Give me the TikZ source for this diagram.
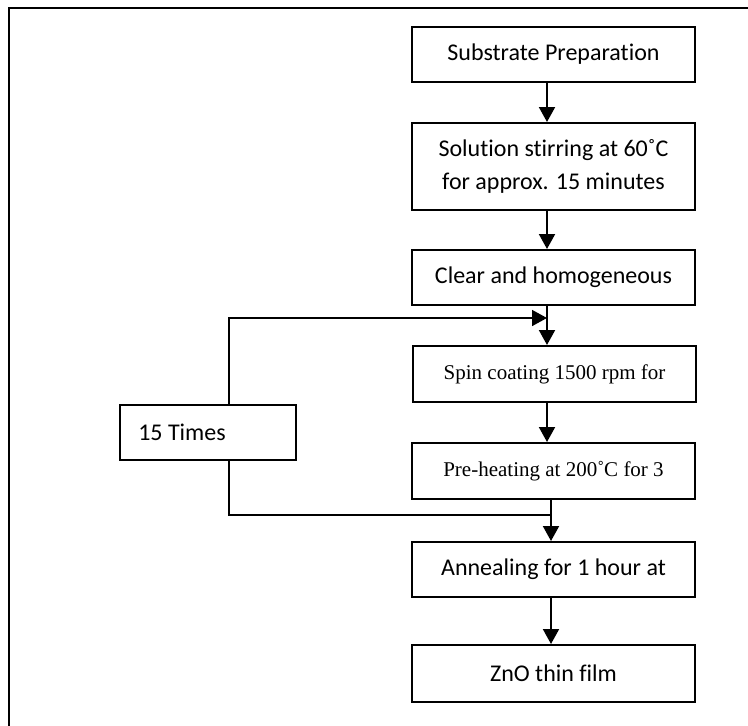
\documentclass[tikz,border=0pt]{standalone}
\usepackage{fontspec}
\setmainfont[Ligatures=NoCommon]{Carlito}
\newfontfamily\timesfont{Liberation Serif}
\usetikzlibrary{arrows.meta, positioning}

\begin{document}
\begin{tikzpicture}[x=1pt, y=1pt,
    stepbox/.style={draw, line width=2pt, minimum width=283pt, minimum height=55pt,
      inner sep=0pt, align=center, font=\fontsize{24}{33}\selectfont},
    serifbox/.style={stepbox, font=\timesfont\fontsize{21}{24}\selectfont},
    flow/.style={line width=2pt, -{Triangle[width=16pt, length=15pt]}},
    loopline/.style={line width=1.6pt}]
      \useasboundingbox (0,0) rectangle (748,-726);
      % frame
      \draw[line width=2.2pt] (9,-726) -- (9,-8) -- (748,-8);

      \node[stepbox] (prep) at (553.5,-54.5) {Substrate Preparation};
      \node[stepbox, minimum height=87pt] (stir) at (553.5,-166.5)
        {Solution stirring at 60˚C\\for approx. 15 minutes};
      \node[stepbox] (clear) at (553.5,-277.5) {Clear and homogeneous};
      \node[serifbox, minimum height=56pt] (spin) at (554.5,-374) {Spin coating 1500 rpm for};
      \node[serifbox, minimum height=56pt] (heat) at (553.5,-471) {Pre-heating at 200˚C for 3};
      \node[stepbox] (anneal) at (553.5,-569.5) {Annealing for 1 hour at};
      \node[stepbox, minimum height=57pt] (zno) at (553.5,-673.5) {ZnO thin film};
      \node[stepbox, minimum width=176pt,
        label={[font=\fontsize{24}{33}\selectfont, xshift=-26pt]center:15 Times}] (times) at (208,-432.5) {};

      \coordinate (j1) at (547,-318);
      \coordinate (j2) at (551,-515);

      \draw[flow] (prep.south -| j1) -- (stir.north -| j1);
      \draw[flow] (stir.south -| j1) -- (clear.north -| j1);
      \draw[flow] (clear.south -| j1) -- (spin.north -| j1);
      \draw[flow] (spin.south -| j1) -- (heat.north -| j1);
      \draw[flow] (heat.south -| j2) -- (anneal.north -| j2);
      \draw[flow] (anneal.south -| j2) -- (zno.north -| j2);

      % repeat loop
      \draw[flow, loopline] ([xshift=21pt]times.north) |- (j1);
      \draw[loopline] ([xshift=21pt]times.south) |- (j2);
    \end{tikzpicture}
\end{document}
